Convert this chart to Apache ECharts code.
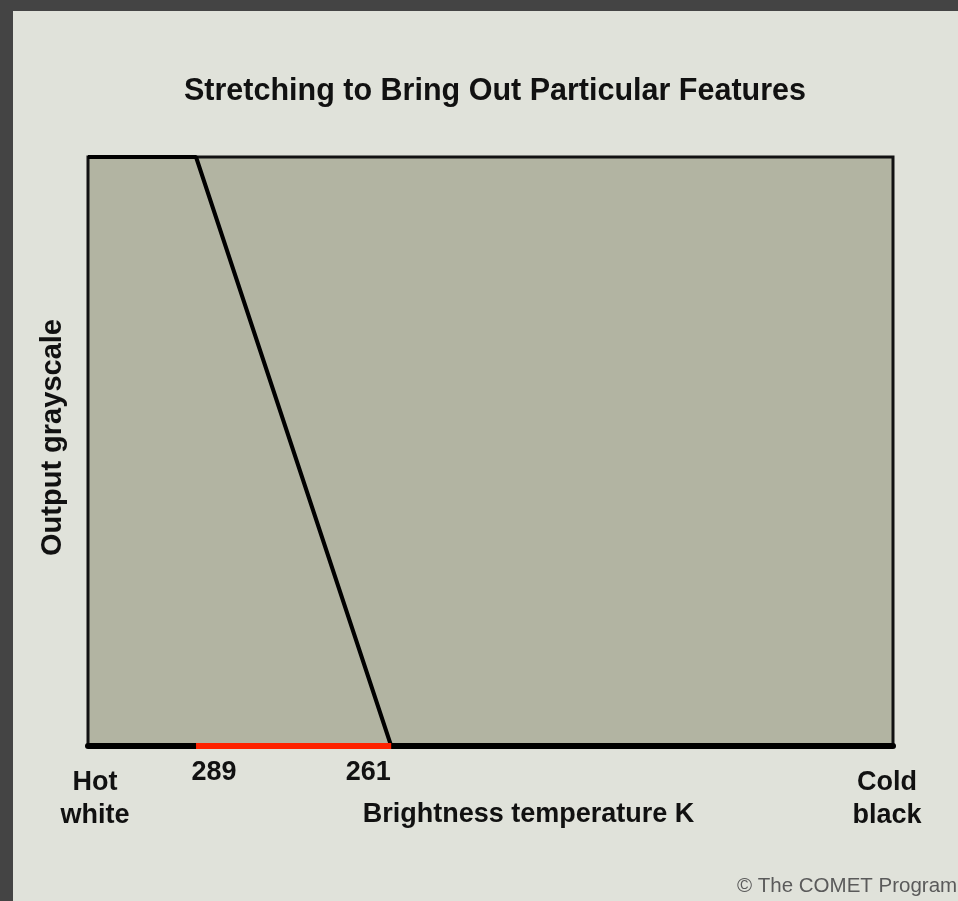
<!DOCTYPE html>
<html>
<head>
<meta charset="utf-8">
<script src="https://cdn.jsdelivr.net/npm/echarts@6/dist/echarts.min.js"></script>
<style>
html,body{margin:0;padding:0;background:#444444;width:958px;height:901px;overflow:hidden;}
#chart{position:absolute;left:13px;top:11px;width:945px;height:890px;}
</style>
</head>
<body>
<div id="chart"></div>
<script>
// Data
var titleText = "Stretching to Bring Out Particular Features";
var xName = "Brightness temperature K";
var yName = "Output grayscale";
var xMin = 189, xMax = 304.5;          // brightness temperature range (hot at left)
var yMin = 0, yMax = 255;              // output grayscale range
var stretchCurve = [[304.5, 255], [289, 255], [261, 0], [189, 0]];
var stretchRange = [[289, 0], [261, 0]];
var tickValues = [304.5, 289, 261, 189];
var tickTexts = {"304.5": "{hot|Hot}\n{hot2|white}", "289": "{a|289}", "261": "{b|261}", "189": "{cold|Cold}\n{cold2|black}"};
var credit = "\u00A9 The COMET Program";

var chart = echarts.init(document.getElementById('chart'));
var font = "'Liberation Sans', Arial, sans-serif";
chart.setOption({
  backgroundColor: '#e0e2da',
  animation: false,
  title: {
    text: titleText,
    left: 171,
    top: 65,
    padding: 0,
    textStyle: {fontFamily: font, fontWeight: 'bold', fontSize: 30.5, color: '#111'}
  },
  grid: {
    left: 75, right: 65, top: 146, bottom: 155,
    show: true, backgroundColor: '#b2b4a2', borderColor: '#111', borderWidth: 3
  },
  xAxis: {
    type: 'value', inverse: true, min: xMin, max: xMax,
    name: xName, nameLocation: 'middle', nameGap: 55, nameMoveOverlap: false,
    nameTextStyle: {fontFamily: font, fontWeight: 'bold', fontSize: 27, color: '#111', verticalAlign: 'top', padding: [0, 0, 0, 76]},
    axisLine: {show: true, lineStyle: {color: '#000', width: 6}},
    axisTick: {show: false},
    splitLine: {show: false},
    axisLabel: {
      customValues: tickValues,
      margin: 14,
      fontFamily: font, fontWeight: 'bold', fontSize: 27, color: '#111',
      formatter: function (v) { return tickTexts[String(v)] || ''; },
      rich: {
        a: {fontFamily: font, fontWeight: 'bold', fontSize: 27, color: '#111', lineHeight: 26, padding: [0, 0, 0, 36]},
        b: {fontFamily: font, fontWeight: 'bold', fontSize: 27, color: '#111', lineHeight: 26, padding: [0, 46, 0, 0]},
        hot: {fontFamily: font, fontWeight: 'bold', fontSize: 27, color: '#111', lineHeight: 46, padding: [0, 0, 0, 14]},
        hot2: {fontFamily: font, fontWeight: 'bold', fontSize: 27, color: '#111', lineHeight: 20, padding: [0, 0, 0, 14]},
        cold: {fontFamily: font, fontWeight: 'bold', fontSize: 27, color: '#111', lineHeight: 46, padding: [0, 12, 0, 0]},
        cold2: {fontFamily: font, fontWeight: 'bold', fontSize: 27, color: '#111', lineHeight: 20, padding: [0, 12, 0, 0]}
      }
    }
  },
  yAxis: {
    type: 'value', min: yMin, max: yMax,
    name: yName, nameLocation: 'middle', nameGap: 21,
    nameTextStyle: {fontFamily: font, fontWeight: 'bold', fontSize: 29, color: '#111', padding: [0, 0, 0, 28]},
    axisLine: {show: false}, axisTick: {show: false}, axisLabel: {show: false}, splitLine: {show: false}
  },
  series: [
    {type: 'line', data: stretchCurve, symbol: 'none', clip: false, z: 3,
     lineStyle: {color: '#000', width: 4}},
    {type: 'line', data: stretchRange, symbol: 'none', clip: false, z: 4,
     lineStyle: {color: '#ff2200', width: 6, cap: 'butt'}}
  ],
  graphic: [
    {type: 'text', left: 724, top: 865, z: 10,
     style: {text: credit, fontFamily: font, fontSize: 20.5, fill: '#5a5a5a'}}
  ]
});
</script>
</body>
</html>
